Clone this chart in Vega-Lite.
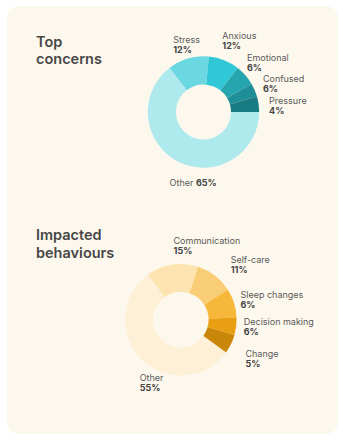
{
  "$schema": "https://vega.github.io/schema/vega-lite/v6.json",
  "width": 343,
  "height": 440,
  "autosize": {"type": "fit", "contains": "padding"},
  "padding": {"left": 7, "top": 6, "right": 5, "bottom": 6},
  "background": "#ffffff",
  "config": {
    "view": {"fill": "#fdf8ed", "stroke": null, "cornerRadius": 12},
    "font": "Inter",
    "text": {"fontSize": 9, "baseline": "alphabetic", "align": "left", "color": "#5a5a5a"}
  },
  "datasets": {
    "titles": [
      {"chart": "Top concerns", "title": "Top\nconcerns"},
      {"chart": "Impacted behaviours", "title": "Impacted\nbehaviours"}
    ],
    "concerns": [
      {"chart": "Top concerns", "rank": 1, "name": "Stress", "value": 12, "pct": "12%"},
      {"chart": "Top concerns", "rank": 2, "name": "Anxious", "value": 9, "pct": "12%"},
      {"chart": "Top concerns", "rank": 3, "name": "Emotional", "value": 6, "pct": "6%"},
      {"chart": "Top concerns", "rank": 4, "name": "Confused", "value": 4, "pct": "6%"},
      {"chart": "Top concerns", "rank": 5, "name": "Pressure", "value": 4.5, "pct": "4%"},
      {"chart": "Top concerns", "rank": 6, "name": "Other", "value": 64.5, "pct": "65%"}
    ],
    "behaviours": [
      {"chart": "Impacted behaviours", "rank": 1, "name": "Communication", "value": 15, "pct": "15%"},
      {"chart": "Impacted behaviours", "rank": 2, "name": "Self-care", "value": 11, "pct": "11%"},
      {"chart": "Impacted behaviours", "rank": 3, "name": "Sleep changes", "value": 8.4, "pct": "6%"},
      {"chart": "Impacted behaviours", "rank": 4, "name": "Decision making", "value": 5, "pct": "6%"},
      {"chart": "Impacted behaviours", "rank": 5, "name": "Change", "value": 5.6, "pct": "5%"},
      {"chart": "Impacted behaviours", "rank": 6, "name": "Other", "value": 55, "pct": "55%"}
    ]
  },
  "layer": [
    {
      "data": {"name": "titles"},
      "mark": {"type": "text", "lineBreak": "\n", "lineHeight": 17.6, "fontSize": 14.5, "fontWeight": 600, "color": "#474747"},
      "encoding": {
        "x": {"field": "chart", "type": "nominal", "scale": {"type": "point", "range": [29, 29]}, "axis": null},
        "y": {"field": "chart", "type": "nominal", "scale": {"type": "point", "domain": ["Top concerns", "Impacted behaviours"], "range": [40.7, 234], "padding": 0}, "axis": null},
        "text": {"field": "title"}
      }
    },
    {
      "data": {"name": "concerns"},
      "encoding": {
        "x": {"field": "chart", "type": "nominal", "scale": {"type": "point", "range": [196.5, 196.5]}, "axis": null},
        "y": {"field": "chart", "type": "nominal", "scale": {"type": "point", "range": [106, 106]}, "axis": null},
        "order": {"field": "rank", "type": "quantitative"},
        "detail": {"field": "name", "type": "nominal"}
      },
      "layer": [
        {
          "mark": {"type": "arc", "innerRadius": 27.5, "outerRadius": 55.7},
          "encoding": {
            "theta": {"field": "value", "type": "quantitative", "stack": true, "scale": {"range": [-0.658, 5.625]}},
            "color": {"field": "name", "type": "nominal", "legend": null, "scale": {"domain": ["Stress", "Anxious", "Emotional", "Confused", "Pressure", "Other"], "range": ["#6bd7e0", "#30c8d6", "#26a5ae", "#1e8f98", "#197b82", "#aee9ee"]}}
          }
        },
        {
          "mark": {"type": "text", "radius": 74, "dy": -1},
          "encoding": {
            "theta": {"field": "value", "type": "quantitative", "stack": true, "scale": {"range": [-0.81, 5.656]}},
            "text": {"condition": {"test": "indexof(['Stress','Anxious'], datum.name) >= 0", "field": "name"}, "value": ""}
          }
        },
        {
          "mark": {"type": "text", "radius": 74, "dy": 9, "fontWeight": 700, "color": "#444444"},
          "encoding": {
            "theta": {"field": "value", "type": "quantitative", "stack": true, "scale": {"range": [-0.81, 5.656]}},
            "text": {"condition": {"test": "indexof(['Stress','Anxious'], datum.name) >= 0", "field": "pct"}, "value": ""}
          }
        },
        {
          "mark": {"type": "text", "radius": 66, "dy": -1},
          "encoding": {
            "theta": {"field": "value", "type": "quantitative", "stack": true, "scale": {"range": [-1.2025, 6.808]}},
            "text": {"condition": {"test": "indexof(['Emotional','Confused','Pressure'], datum.name) >= 0", "field": "name"}, "value": ""}
          }
        },
        {
          "mark": {"type": "text", "radius": 66, "dy": 9, "fontWeight": 700, "color": "#444444"},
          "encoding": {
            "theta": {"field": "value", "type": "quantitative", "stack": true, "scale": {"range": [-1.2025, 6.808]}},
            "text": {"condition": {"test": "indexof(['Emotional','Confused','Pressure'], datum.name) >= 0", "field": "pct"}, "value": ""}
          }
        },
        {
          "mark": {"type": "text", "radius": 75, "align": "right", "dx": -1.3},
          "encoding": {
            "theta": {"field": "value", "type": "quantitative", "stack": true, "scale": {"range": [-0.997, 5.286]}},
            "text": {"condition": {"test": "datum.name === 'Other'", "field": "name"}, "value": ""}
          }
        },
        {
          "mark": {"type": "text", "radius": 75, "dx": 1.3, "fontWeight": 700, "color": "#444444"},
          "encoding": {
            "theta": {"field": "value", "type": "quantitative", "stack": true, "scale": {"range": [-0.997, 5.286]}},
            "text": {"condition": {"test": "datum.name === 'Other'", "field": "pct"}, "value": ""}
          }
        }
      ],
      "resolve": {"scale": {"theta": "independent"}}
    },
    {
      "data": {"name": "behaviours"},
      "encoding": {
        "x": {"field": "chart", "type": "nominal", "scale": {"type": "point", "range": [173.8, 173.8]}, "axis": null},
        "y": {"field": "chart", "type": "nominal", "scale": {"type": "point", "range": [313.7, 313.7]}, "axis": null},
        "order": {"field": "rank", "type": "quantitative"},
        "detail": {"field": "name", "type": "nominal"}
      },
      "layer": [
        {
          "mark": {"type": "arc", "innerRadius": 27.8, "outerRadius": 55.8},
          "encoding": {
            "theta": {"field": "value", "type": "quantitative", "stack": true, "scale": {"range": [-0.628, 5.655]}},
            "color": {"field": "name", "type": "nominal", "legend": null, "scale": {"domain": ["Communication", "Self-care", "Sleep changes", "Decision making", "Change", "Other"], "range": ["#fde3b0", "#f9cd75", "#f6b73b", "#e99f12", "#c98609", "#fef0d6"]}}
          }
        },
        {
          "mark": {"type": "text", "radius": 75, "dy": -1},
          "encoding": {
            "theta": {"field": "value", "type": "quantitative", "stack": true, "scale": {"range": [-0.5725, 5.765]}},
            "text": {"condition": {"test": "indexof(['Communication','Self-care','Change'], datum.name) >= 0", "field": "name"}, "value": ""}
          }
        },
        {
          "mark": {"type": "text", "radius": 75, "dy": 9, "fontWeight": 700, "color": "#444444"},
          "encoding": {
            "theta": {"field": "value", "type": "quantitative", "stack": true, "scale": {"range": [-0.5725, 5.765]}},
            "text": {"condition": {"test": "indexof(['Communication','Self-care','Change'], datum.name) >= 0", "field": "pct"}, "value": ""}
          }
        },
        {
          "mark": {"type": "text", "radius": 63.3, "dy": -1},
          "encoding": {
            "theta": {"field": "value", "type": "quantitative", "stack": true, "scale": {"range": [-0.775, 5.868]}},
            "text": {"condition": {"test": "indexof(['Sleep changes','Decision making'], datum.name) >= 0", "field": "name"}, "value": ""}
          }
        },
        {
          "mark": {"type": "text", "radius": 63.3, "dy": 9, "fontWeight": 700, "color": "#444444"},
          "encoding": {
            "theta": {"field": "value", "type": "quantitative", "stack": true, "scale": {"range": [-0.775, 5.868]}},
            "text": {"condition": {"test": "indexof(['Sleep changes','Decision making'], datum.name) >= 0", "field": "pct"}, "value": ""}
          }
        },
        {
          "mark": {"type": "text", "radius": 75, "dy": -1},
          "encoding": {
            "theta": {"field": "value", "type": "quantitative", "stack": true, "scale": {"range": [-0.833, 5.45]}},
            "text": {"condition": {"test": "datum.name === 'Other'", "field": "name"}, "value": ""}
          }
        },
        {
          "mark": {"type": "text", "radius": 75, "dy": 9, "fontWeight": 700, "color": "#444444"},
          "encoding": {
            "theta": {"field": "value", "type": "quantitative", "stack": true, "scale": {"range": [-0.833, 5.45]}},
            "text": {"condition": {"test": "datum.name === 'Other'", "field": "pct"}, "value": ""}
          }
        }
      ],
      "resolve": {"scale": {"theta": "independent"}}
    }
  ],
  "resolve": {"scale": {"x": "independent", "y": "independent", "theta": "independent", "color": "independent"}}
}
